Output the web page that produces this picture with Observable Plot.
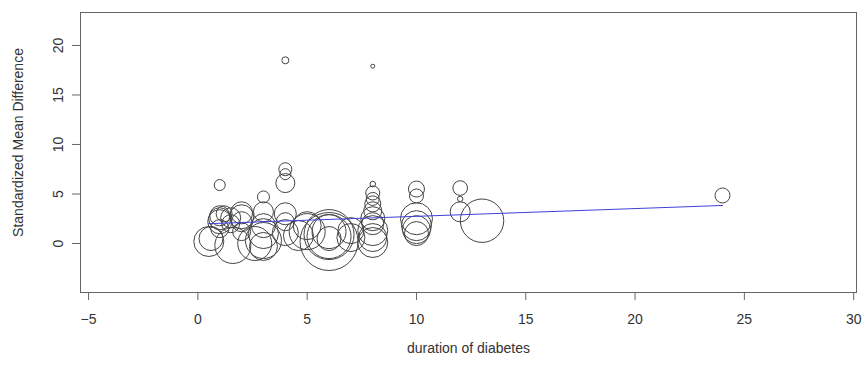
<!DOCTYPE html>
<html><head><meta charset="utf-8">
<script src="https://cdn.jsdelivr.net/npm/d3@7"></script>
<script src="https://cdn.jsdelivr.net/npm/@observablehq/plot@0.6"></script>
<style>body{margin:0;background:#fff;}</style>
</head><body><div id="chart"></div>
<script>
// study-level data
const duration = [0.5, 0.6, 1, 1, 1, 1, 1, 1.2, 1.5, 1.5, 1.6, 2, 2, 2, 2, 2.6, 3, 3, 3, 3, 3, 3, 4, 4, 4, 4, 4, 4, 4, 4.6, 5, 5, 6, 6, 6, 6, 6, 7, 7, 8, 8, 8, 8, 8, 8, 8, 8, 8, 8, 8, 10, 10, 10, 10, 10, 10, 12, 12, 12, 13, 24];
const smd      = [0.2, 0.5, 5.9, 2.8, 2.5, 2.2, 1.5, 3.0, 2.0, 2.6, -0.2, 3.1, 2.7, 2.2, 1.2, 0.0, 4.7, 3.2, 1.8, 1.0, 0.3, -0.3, 18.5, 7.5, 7.0, 6.1, 3.0, 2.2, 1.1, 0.8, 1.8, 1.2, 0.2, 0.9, 0.7, 1.2, 0.5, 0.6, 1.3, 17.9, 6.0, 5.1, 4.5, 4.0, 3.3, 2.5, 2.0, 1.3, 0.6, 0.1, 5.5, 4.8, 2.5, 1.8, 1.4, 1.0, 5.6, 4.5, 3.2, 2.3, 4.85];
const weight   = [15, 12, 5.5, 10, 11, 12, 9, 8, 9, 10, 18, 11, 12, 10, 9, 17, 6, 10, 12, 15, 18, 14, 3.5, 6.5, 5.5, 9.5, 11, 9, 13, 15, 14, 18, 29, 25, 22, 17, 12, 14, 13, 2, 2.8, 7, 6.5, 8, 9, 12, 11, 15, 14, 15, 8, 7, 16, 15, 14, 12, 7.3, 2.7, 10, 21.7, 7.5];
// fitted meta-regression line (endpoints)
const fitX = [0.5, 24];
const fitY = [2.0, 3.84];
const xTicks = [-5, 0, 5, 10, 15, 20, 25, 30];
const yTicks = [0, 5, 10, 15, 20];
const xLabel = "duration of diabetes";
const yLabel = "Standardized Mean Difference";

const studies = duration.map((d, i) => ({x: d, y: smd[i], w: weight[i]}));
const fit = fitX.map((x, i) => ({x, y: fitY[i]}));

const chart = Plot.plot({
  width: 864, height: 365,
  marginLeft: 80, marginRight: 8, marginTop: 12, marginBottom: 73,
  style: {fontFamily: "'Liberation Sans', Arial, sans-serif", fontSize: "14px", color: "#333", background: "#fff"},
  x: {domain: [-5.37, 30.13]},
  y: {domain: [-4.95, 23.33]},
  r: {type: "linear", domain: [0, 30], range: [0, 30]},
  marks: [
    Plot.frame({stroke: "#666"}),
    Plot.axisX({ticks: xTicks, tickSize: 8, tickPadding: 14, label: null, stroke: "#666", fontSize: 14}),
    Plot.axisY({ticks: yTicks, tickSize: 8, tickRotate: -90, tickPadding: 10, label: null, stroke: "#666", fontSize: 14}),
    Plot.dot(studies, {x: "x", y: "y", r: "w", stroke: "#444", strokeWidth: 1, fill: "none"}),
    Plot.line(fit, {x: "x", y: "y", stroke: "#4040dd", strokeWidth: 1}),
    Plot.text([xLabel], {frameAnchor: "bottom", dy: 60, text: d => d, fontSize: 14}),
    Plot.text([yLabel], {frameAnchor: "left", dx: -62, dy: -10, rotate: -90, textAnchor: "middle", text: d => d, fontSize: 14})
  ]
});
document.getElementById("chart").appendChild(chart);
</script>
</body></html>
